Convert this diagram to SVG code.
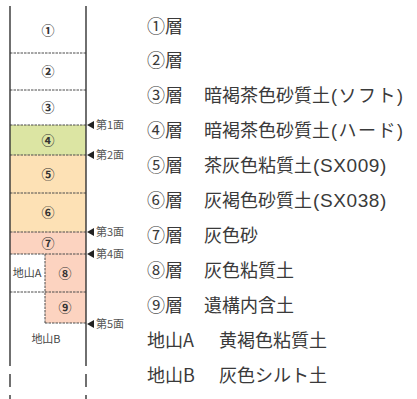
<svg xmlns="http://www.w3.org/2000/svg" width="417" height="399" viewBox="0 0 417 399">
<style>
.bd{stroke:#4a4a4a;stroke-width:1;stroke-dasharray:2.5 1;fill:none}
.ln{stroke:#333;stroke-width:1.4;fill:none}
.cn{font-family:"Noto Sans CJK JP","Noto Sans",sans-serif;font-size:13px;font-weight:bold;fill:#333;text-anchor:middle}
.sm{font-family:"Noto Sans CJK JP","Noto Sans",sans-serif;font-size:11px;fill:#444;text-anchor:middle}
.mk{font-family:"Noto Sans CJK JP","Noto Sans",sans-serif;font-size:11px;fill:#555}
.lb{font-family:"Noto Sans CJK JP","Noto Sans",sans-serif;font-size:18px;fill:#3a3a3a}
.la{font-family:"Liberation Sans","Noto Sans CJK JP",sans-serif;font-size:19px;fill:#3a3a3a;letter-spacing:0.6px}
.pk{font-family:"Liberation Sans","Noto Sans CJK JP",sans-serif;font-size:18px;fill:#3a3a3a;letter-spacing:1.5px}
.tri{fill:#222}
</style>
<rect width="417" height="399" fill="#fff"/>
<g id="column">
<g id="layer1"><text class="cn" x="48" y="35">①</text></g>
<g id="layer2"><text class="cn" x="48" y="76">②</text></g>
<g id="layer3"><text class="cn" x="48" y="112">③</text></g>
<g id="layer4"><rect x="10" y="125" width="76" height="30" fill="#dce5a3"/><text class="cn" x="48" y="145">④</text></g>
<g id="layer5"><rect x="10" y="155" width="76" height="38" fill="#fde1b5"/><text class="cn" x="48" y="179">⑤</text></g>
<g id="layer6"><rect x="10" y="193" width="76" height="39" fill="#fde1b5"/><text class="cn" x="48" y="217">⑥</text></g>
<g id="layer7"><rect x="10" y="232" width="76" height="22" fill="#fcd3c0"/><text class="cn" x="48" y="248">⑦</text></g>
<g id="layer8"><rect x="45" y="254" width="41" height="38" fill="#fcd3c0"/><text class="cn" x="65" y="278">⑧</text></g>
<g id="layer9"><rect x="45" y="292" width="41" height="31" fill="#fcd3c0"/><text class="cn" x="65" y="312">⑨</text></g>
<g id="jiyamaA"><text class="sm" x="27" y="277">地山A</text></g>
<g id="jiyamaB"><text class="sm" x="46" y="343">地山B</text></g>
</g>
<g id="lines">
<line class="bd" x1="10" y1="53" x2="86" y2="53"/>
<line class="bd" x1="10" y1="90" x2="86" y2="90"/>
<line class="bd" x1="10" y1="125" x2="86" y2="125"/>
<line class="bd" x1="10" y1="155" x2="86" y2="155"/>
<line class="bd" x1="10" y1="193" x2="86" y2="193"/>
<line class="bd" x1="10" y1="232" x2="86" y2="232"/>
<line class="bd" x1="10" y1="254" x2="86" y2="254"/>
<line class="bd" x1="10" y1="292" x2="86" y2="292"/>
<line class="bd" x1="45" y1="323" x2="86" y2="323"/>
<line class="bd" x1="45" y1="254" x2="45" y2="323"/>
<line class="ln" x1="10" y1="6" x2="10" y2="366"/>
<line class="ln" x1="86" y1="6" x2="86" y2="366"/>
<line class="ln" x1="10" y1="374" x2="10" y2="387"/>
<line class="ln" x1="86" y1="374" x2="86" y2="387"/>
<line class="ln" x1="10" y1="395" x2="10" y2="399"/>
<line class="ln" x1="86" y1="395" x2="86" y2="399"/>
</g>
<g id="surfaces">
<g id="s1"><path class="tri" d="M87,125 L94,121 L94,129 Z"/><text class="mk" x="96" y="129">第1面</text></g>
<g id="s2"><path class="tri" d="M87,155 L94,151 L94,159 Z"/><text class="mk" x="96" y="159">第2面</text></g>
<g id="s3"><path class="tri" d="M87,232 L94,228 L94,236 Z"/><text class="mk" x="96" y="236">第3面</text></g>
<g id="s4"><path class="tri" d="M87,254 L94,250 L94,258 Z"/><text class="mk" x="96" y="258">第4面</text></g>
<g id="s5"><path class="tri" d="M87,324 L94,320 L94,328 Z"/><text class="mk" x="96" y="328">第5面</text></g>
</g>
<g id="legend">
<g id="l1"><text class="lb" x="147" y="33">①層</text></g>
<g id="l2"><text class="lb" x="147" y="67">②層</text></g>
<g id="l3"><text class="lb" x="147" y="102">③層</text><text class="lb" x="204" y="102">暗褐茶色砂質土</text><text class="pk" x="331" y="102">(ソフト)</text></g>
<g id="l4"><text class="lb" x="147" y="137">④層</text><text class="lb" x="204" y="137">暗褐茶色砂質土</text><text class="pk" x="331" y="137">(ハード)</text></g>
<g id="l5"><text class="lb" x="147" y="172">⑤層</text><text class="lb" x="204" y="172">茶灰色粘質土</text><text class="la" x="313" y="172">(SX009)</text></g>
<g id="l6"><text class="lb" x="147" y="207">⑥層</text><text class="lb" x="204" y="207">灰褐色砂質土</text><text class="la" x="313" y="207">(SX038)</text></g>
<g id="l7"><text class="lb" x="147" y="242">⑦層</text><text class="lb" x="204" y="242">灰色砂</text></g>
<g id="l8"><text class="lb" x="147" y="277">⑧層</text><text class="lb" x="204" y="277">灰色粘質土</text></g>
<g id="l9"><text class="lb" x="147" y="312">⑨層</text><text class="lb" x="204" y="312">遺構内含土</text></g>
<g id="lA"><text class="lb" x="147" y="347">地山A</text><text class="lb" x="219" y="347">黄褐色粘質土</text></g>
<g id="lB"><text class="lb" x="147" y="382">地山B</text><text class="lb" x="219" y="382">灰色シルト土</text></g>
</g>
</svg>
